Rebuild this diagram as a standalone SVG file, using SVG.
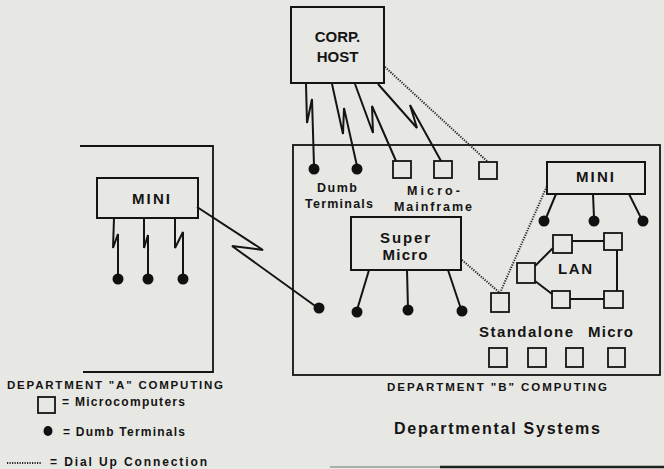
<svg xmlns="http://www.w3.org/2000/svg" width="664" height="469" viewBox="0 0 664 469">
  <defs>
    <style>
      .bg { fill: #e7e7e3; }
      .box { fill: none; stroke: #141414; stroke-width: 2; }
      .frame { fill: none; stroke: #141414; stroke-width: 1.8; }
      .micro { fill: none; stroke: #141414; stroke-width: 1.8; }
      .term { fill: #111; }
      .ln { fill: none; stroke: #141414; stroke-width: 2; stroke-linejoin: miter; }
      .dial { fill: none; stroke: #222; stroke-width: 2; stroke-dasharray: 1.2 1.3; }
      text { font-family: "Liberation Sans", Arial, sans-serif; font-weight: bold; fill: #141414; }
      .lbl15 { font-size: 15px; }
      .lbl13 { font-size: 12.5px; }
      .cap { font-size: 11.5px; }
      .leg { font-size: 12px; }
    </style>
  </defs>

  <rect class="bg" x="0" y="0" width="664" height="469"/>

  <!-- department frames -->
  <g id="dept-a">
    <polyline class="frame" points="80,146 213,146 213,372 83,372"/>
    <text class="cap" x="7" y="389" textLength="216" lengthAdjust="spacing">DEPARTMENT "A" COMPUTING</text>
  </g>
  <g id="dept-b">
    <rect class="frame" x="293" y="145" width="367" height="230"/>
    <text class="cap" x="387" y="391" textLength="220" lengthAdjust="spacing">DEPARTMENT "B" COMPUTING</text>
  </g>

  <!-- connectors -->
  <g id="connectors">
    <!-- host to department B (leased, with line-break symbol) -->
    <polyline class="ln" points="306,84 307,123 312,99 314,166"/>
    <polyline class="ln" points="332,84 343,134 344,108 357,166"/>
    <polyline class="ln" points="355,84 373,133 372,106 396,161"/>
    <polyline class="ln" points="378,84 417,128 410,105 441,161"/>
    <line class="dial" x1="385" y1="67" x2="488" y2="162"/>
    <!-- mini A to terminals -->
    <polyline class="ln" points="114,218 113,248 118,234 118,278"/>
    <polyline class="ln" points="144,218 144,248 148,235 148,278"/>
    <polyline class="ln" points="175,218 175,248 183,232 183,278"/>
    <!-- mini A to department B -->
    <polyline class="ln" points="197,207 263,250 232,246 318,308"/>
    <!-- super micro to terminals -->
    <line class="ln" x1="369" y1="270" x2="357" y2="310"/>
    <line class="ln" x1="407" y1="270" x2="408" y2="309"/>
    <line class="ln" x1="448" y1="270" x2="461" y2="309"/>
    <!-- dial-up links -->
    <line class="dial" x1="462" y1="260" x2="500" y2="293"/>
    <line class="dial" x1="500" y1="293" x2="547" y2="186"/>
    <!-- mini B to terminals -->
    <line class="ln" x1="556" y1="194" x2="546" y2="218"/>
    <line class="ln" x1="593" y1="194" x2="594" y2="218"/>
    <line class="ln" x1="629" y1="194" x2="641" y2="218"/>
    <!-- LAN -->
    <line class="ln" x1="572" y1="241" x2="604" y2="241"/>
    <line class="ln" x1="617" y1="250" x2="617" y2="291"/>
    <line class="ln" x1="570" y1="299" x2="604" y2="299"/>
    <line class="ln" x1="535" y1="266" x2="553" y2="248"/>
    <line class="ln" x1="535" y1="281" x2="552" y2="294"/>
  </g>

  <g id="corp-host">
    <rect class="box" x="291" y="7" width="93" height="76"/>
    <text class="lbl15" x="337.5" y="42" text-anchor="middle">CORP.</text>
    <text class="lbl15" x="337.5" y="62" text-anchor="middle">HOST</text>
  </g>

  <g id="mini-a">
    <rect class="box" x="97" y="178" width="101" height="40"/>
    <text class="lbl15" x="132" y="204" textLength="38" lengthAdjust="spacing" font-size="14">MINI</text>
    <circle class="term" cx="118" cy="279" r="5.5"/>
    <circle class="term" cx="148" cy="279" r="5.5"/>
    <circle class="term" cx="183" cy="279" r="5.5"/>
  </g>

  <g id="host-terminals">
    <circle class="term" cx="314" cy="169" r="5.5"/>
    <circle class="term" cx="357" cy="169" r="5.5"/>
    <text class="lbl13" x="317" y="192" textLength="40" lengthAdjust="spacing">Dumb</text>
    <text class="lbl13" x="305" y="208" textLength="68" lengthAdjust="spacing">Terminals</text>
  </g>

  <g id="micro-mainframe">
    <rect class="micro" x="393" y="161" width="18" height="17"/>
    <rect class="micro" x="434" y="161" width="18" height="17"/>
    <rect class="micro" x="479" y="162" width="18" height="17"/>
    <text class="lbl13" x="407" y="195" textLength="53" lengthAdjust="spacing">Micro-</text>
    <text class="lbl13" x="394" y="211" textLength="78" lengthAdjust="spacing">Mainframe</text>
  </g>

  <g id="remote-terminal">
    <circle class="term" cx="319" cy="308" r="5.5"/>
  </g>

  <g id="super-micro">
    <rect class="box" x="351" y="217" width="110" height="53"/>
    <text class="lbl15" x="405" y="243" text-anchor="middle" textLength="50" lengthAdjust="spacing">Super</text>
    <text class="lbl15" x="405" y="260" text-anchor="middle" textLength="45" lengthAdjust="spacing">Micro</text>
    <circle class="term" cx="357" cy="312" r="5.5"/>
    <circle class="term" cx="408" cy="310" r="5.5"/>
    <circle class="term" cx="462" cy="311" r="5.5"/>
  </g>

  <g id="mini-b">
    <rect class="box" x="547" y="162" width="98" height="32"/>
    <text class="lbl15" x="576" y="182" textLength="38" lengthAdjust="spacing" font-size="14">MINI</text>
    <circle class="term" cx="544" cy="221" r="5.5"/>
    <circle class="term" cx="594" cy="221" r="5.5"/>
    <circle class="term" cx="643" cy="221" r="5.5"/>
  </g>

  <g id="lan">
    <rect class="micro" x="553" y="235" width="19" height="18"/>
    <rect class="micro" x="604" y="233" width="18" height="17"/>
    <rect class="micro" x="517" y="263" width="18" height="20"/>
    <rect class="micro" x="552" y="291" width="18" height="17"/>
    <rect class="micro" x="604" y="291" width="19" height="17"/>
    <text class="lbl15" x="558" y="274" textLength="34" lengthAdjust="spacing">LAN</text>
  </g>

  <g id="standalone">
    <rect class="micro" x="491" y="293" width="18" height="19"/>
    <text class="lbl15" x="479" y="337" textLength="94" lengthAdjust="spacing">Standalone</text>
    <text class="lbl15" x="588" y="337" textLength="45" lengthAdjust="spacing">Micro</text>
    <rect class="micro" x="489" y="348" width="18" height="19"/>
    <rect class="micro" x="528" y="348" width="18" height="19"/>
    <rect class="micro" x="566" y="348" width="17" height="19"/>
    <rect class="micro" x="608" y="348" width="17" height="19"/>
  </g>

  <!-- key -->
  <g id="legend">
    <rect class="micro" x="38" y="397" width="17" height="16"/>
    <text class="leg" x="62" y="406" textLength="123" lengthAdjust="spacing">= Microcomputers</text>
    <ellipse class="term" cx="48" cy="431" rx="4.5" ry="5"/>
    <text class="leg" x="63" y="436" textLength="122" lengthAdjust="spacing">= Dumb Terminals</text>
    <line class="dial" x1="7" y1="463" x2="42" y2="463"/>
    <text class="leg" x="50" y="466" textLength="157" lengthAdjust="spacing">= Dial Up Connection</text>
  </g>

  <g id="caption">
    <text x="394" y="434" font-size="16" textLength="206" lengthAdjust="spacing">Departmental  Systems</text>
  </g>

  <line x1="330" y1="467" x2="440" y2="467" stroke="#9a9a98" stroke-width="1.5"/>
  <line x1="440" y1="467" x2="664" y2="467" stroke="#222" stroke-width="2.5"/>
</svg>
